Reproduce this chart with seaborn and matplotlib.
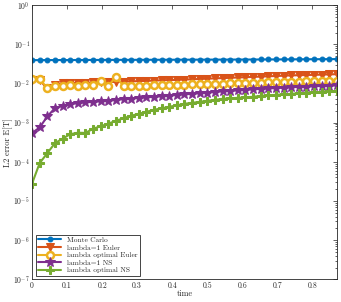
import numpy as np
import pandas as pd
import matplotlib
matplotlib.use("Agg")
import matplotlib.pyplot as plt
import seaborn as sns
from matplotlib.ticker import LogLocator, NullFormatter

# ===============================
# Data
# ===============================

time = np.linspace(0, 0.87, 41)

monte_carlo = [0.0395, 0.0395, 0.0396, 0.0396, 0.0397, 0.0397, 0.0398, 0.0398, 0.0399, 0.0399,
               0.0400, 0.0400, 0.0401, 0.0401, 0.0402, 0.0402, 0.0403, 0.0403, 0.0404, 0.0404,
               0.0405, 0.0405, 0.0406, 0.0406, 0.0407, 0.0407, 0.0408, 0.0408, 0.0409, 0.0409,
               0.0410, 0.0411, 0.0411, 0.0412, 0.0413, 0.0414, 0.0415, 0.0416, 0.0417, 0.0418,
               0.0420]

euler_l1 = [0.0120, 0.0120, 0.0075, 0.00921, 0.01006, 0.01035, 0.01035, 0.01047, 0.01060, 0.01073,
            0.01086, 0.01099, 0.01112, 0.01131, 0.01151, 0.01164, 0.01186, 0.01207, 0.01221, 0.01236,
            0.01258, 0.01281, 0.01303, 0.01326, 0.01350, 0.01372, 0.01397, 0.01422, 0.01446, 0.01472,
            0.01499, 0.01525, 0.01552, 0.01578, 0.01607, 0.01626, 0.01644, 0.01663, 0.01683, 0.01706,
            0.01726]

euler_opt = [0.01271, 0.01271, 0.00773, 0.00869, 0.00844, 0.00895, 0.00869, 0.00895, 0.00921, 0.01164,
             0.00869, 0.01472, 0.00869, 0.00869, 0.00869, 0.00879, 0.00889, 0.00900, 0.00910, 0.00921,
             0.00932, 0.00944, 0.00955, 0.00966, 0.00977, 0.00989, 0.01000, 0.01012, 0.01024, 0.01035,
             0.01047, 0.01060, 0.01073, 0.01086, 0.01099, 0.01112, 0.01125, 0.01138, 0.01151, 0.01164,
             0.01178]

ns_l1 = [5.43e-4, 7.55e-4, 1.44e-3, 2.35e-3, 2.69e-3, 2.97e-3, 3.15e-3, 3.30e-3, 3.40e-3, 3.51e-3,
         3.61e-3, 3.83e-3, 3.99e-3, 4.13e-3, 4.30e-3, 4.43e-3, 4.56e-3, 4.75e-3, 4.92e-3, 5.13e-3,
         5.28e-3, 5.44e-3, 5.66e-3, 5.86e-3, 6.11e-3, 6.30e-3, 6.49e-3, 6.67e-3, 6.87e-3, 7.08e-3,
         7.29e-3, 7.46e-3, 7.64e-3, 7.82e-3, 8.00e-3, 8.19e-3, 8.34e-3, 8.49e-3, 8.64e-3, 8.79e-3,
         8.95e-3]

ns_opt = [2.79e-5, 9.3e-5, 1.66e-4, 2.99e-4, 3.89e-4, 5.07e-4, 5.53e-4, 5.45e-4, 7.0e-4, 8.1e-4,
          9.4e-4, 1.12e-3, 1.29e-3, 1.50e-3, 1.68e-3, 1.89e-3, 2.13e-3, 2.32e-3, 2.54e-3, 2.77e-3,
          3.03e-3, 3.21e-3, 3.40e-3, 3.61e-3, 3.83e-3, 4.06e-3, 4.18e-3, 4.30e-3, 4.43e-3, 4.56e-3,
          4.83e-3, 4.98e-3, 5.13e-3, 5.28e-3, 5.44e-3, 5.60e-3, 5.77e-3, 5.94e-3, 6.11e-3, 6.30e-3,
          6.49e-3]

labels = ["Monte Carlo", "lambda=1 Euler", "lambda optimal Euler", "lambda=1 NS", "lambda optimal NS"]
series = [monte_carlo, euler_l1, euler_opt, ns_l1, ns_opt]
colors = ["#0072BD", "#D95319", "#EDB120", "#7E2F8E", "#77AC30"]
y_ticks = [1e-7, 1e-6, 1e-5, 1e-4, 1e-3, 1e-2, 1e-1, 1e0]
x_ticks = [0, 0.1, 0.2, 0.3, 0.4, 0.5, 0.6, 0.7, 0.8]
x_ticklabels = ["0", "0.1", "0.2", "0.3", "0.4", "0.5", "0.6", "0.7", "0.8"]

# ===============================
# Style
# ===============================

sns.set_style("white")
plt.rcParams["font.family"] = "serif"
plt.rcParams["font.serif"] = ["cmr10", "DejaVu Serif"]
plt.rcParams["mathtext.fontset"] = "cm"
plt.rcParams["axes.formatter.use_mathtext"] = True
plt.rcParams["axes.unicode_minus"] = False

fig = plt.figure(figsize=(3.41, 3.02), dpi=100)
ax = fig.add_axes([0.094, 0.075, 0.894, 0.908])

styles = [
    dict(marker="o", markersize=3.5, markerfacecolor=colors[0], markeredgecolor=colors[0]),
    dict(marker="v", markersize=5.5, markerfacecolor=colors[1], markeredgecolor=colors[1]),
    dict(marker="o", markersize=5, markerfacecolor="white", markeredgecolor=colors[2], markeredgewidth=1.8),
    dict(marker="*", markersize=7.5, markerfacecolor=colors[3], markeredgecolor=colors[3]),
    dict(marker="P", markersize=5.5, markerfacecolor=colors[4], markeredgecolor=colors[4]),
]

for vals, lab, col, st in zip(series, labels, colors, styles):
    sns.lineplot(x=time, y=vals, color=col, linewidth=1.5, label=lab, ax=ax, **st)

ax.set_yscale("log")
ax.set_yticks(y_ticks)
ax.yaxis.set_minor_locator(LogLocator(base=10, subs=np.arange(2, 10), numticks=20))
ax.yaxis.set_minor_formatter(NullFormatter())
ax.set_ylim(1e-7, 1)
ax.set_xticks(x_ticks)
ax.set_xticklabels(x_ticklabels)
ax.set_xlim(0, 0.87)

for s in ax.spines.values():
    s.set_color("#262626")
    s.set_linewidth(0.6)
ax.tick_params(which="both", direction="in", top=True, right=True, colors="#262626",
               labelsize=5.5, width=0.5, pad=1.5)
ax.tick_params(which="major", length=3)
ax.tick_params(which="minor", length=1.5)

ax.set_xlabel("time", fontsize=6, labelpad=0)
ax.set_ylabel("L2 error E[T]", fontsize=6, labelpad=0)

leg = ax.legend(loc="lower left", fontsize=5.3, frameon=True, fancybox=False,
                edgecolor="#262626", framealpha=1, handlelength=3.2,
                borderaxespad=0.5, labelspacing=0.2, borderpad=0.3)
leg.get_frame().set_linewidth(0.6)

plt.savefig("out.png", dpi=100)
